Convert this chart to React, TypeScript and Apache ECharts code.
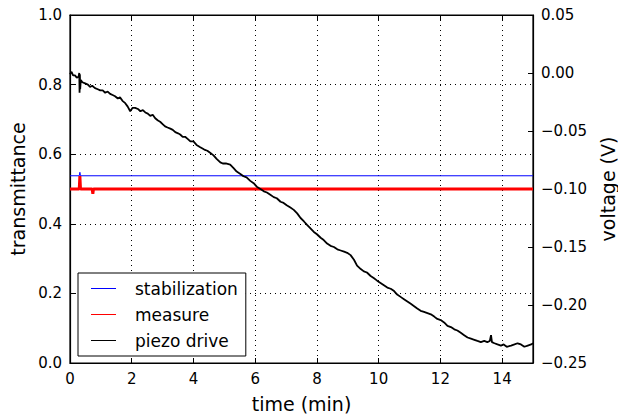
import React, { useEffect, useRef } from "react";
import * as echarts from "echarts";

// time (min) for x axis
const xTicks = [0, 2, 4, 6, 8, 10, 12, 14];

// stabilization (transmittance)
const stabTime = [0, 0.3, 0.32, 0.34, 15];
const stabValues = [0.538, 0.538, 0.548, 0.538, 0.538];

// measure (transmittance)
const measTime = [0, 0.3, 0.32, 0.34, 0.72, 0.74, 0.76, 15];
const measValues = [0.5, 0.5, 0.537, 0.5, 0.5, 0.486, 0.5, 0.5];

// piezo drive (voltage, V)
const piezoTime = [
  0.0, 0.05, 0.1, 0.16, 0.22, 0.28, 0.3, 0.31, 0.32, 0.33, 0.35, 0.4, 0.49, 0.58, 0.65, 0.72, 0.81, 0.9, 0.98,
  1.06, 1.14, 1.22, 1.3, 1.38, 1.46, 1.55, 1.62, 1.7, 1.79, 1.87, 1.95, 2.03, 2.11, 2.2, 2.28, 2.36, 2.44, 2.52,
  2.6, 2.68, 2.76, 2.85, 2.92, 3.0, 3.08, 3.16, 3.25, 3.33, 3.41, 3.5, 3.57, 3.65, 3.73, 3.82, 3.9, 4.0, 4.1,
  4.22, 4.35, 4.45, 4.55, 4.65, 4.75, 4.87, 4.95, 5.05, 5.19, 5.3, 5.4, 5.52, 5.62, 5.72, 5.84, 5.95, 6.05,
  6.17, 6.28, 6.38, 6.49, 6.6, 6.7, 6.82, 6.92, 7.02, 7.14, 7.25, 7.36, 7.47, 7.58, 7.68, 7.79, 7.9, 8.0, 8.12,
  8.22, 8.33, 8.44, 8.55, 8.66, 8.77, 8.88, 8.98, 9.09, 9.2, 9.3, 9.42, 9.52, 9.62, 9.74, 9.85, 9.95, 10.06,
  10.17, 10.28, 10.39, 10.5, 10.6, 10.71, 10.82, 10.93, 11.04, 11.15, 11.25, 11.36, 11.47, 11.58, 11.69, 11.8,
  11.9, 12.01, 12.12, 12.23, 12.34, 12.45, 12.55, 12.66, 12.77, 12.88, 12.99, 13.1, 13.2, 13.31, 13.42, 13.52,
  13.6, 13.64, 13.67, 13.75, 13.85, 13.96, 14.05, 14.15, 14.29, 14.4, 14.5, 14.61, 14.72, 14.83, 14.94, 15.0,
];
const piezoValues = [
  -0.001, 0.001, -0.002, -0.002, -0.004, -0.003, 0.0, -0.017, -0.001, -0.014, -0.006, -0.008, -0.009, -0.01,
  -0.012, -0.011, -0.013, -0.014, -0.015, -0.015, -0.017, -0.016, -0.018, -0.019, -0.02, -0.022, -0.021,
  -0.024, -0.026, -0.029, -0.033, -0.03, -0.03, -0.031, -0.033, -0.032, -0.034, -0.035, -0.037, -0.036,
  -0.039, -0.041, -0.042, -0.044, -0.046, -0.047, -0.048, -0.049, -0.051, -0.052, -0.053, -0.055, -0.055,
  -0.057, -0.059, -0.059, -0.062, -0.064, -0.066, -0.067, -0.069, -0.071, -0.074, -0.077, -0.078, -0.078,
  -0.079, -0.082, -0.085, -0.087, -0.089, -0.09, -0.093, -0.095, -0.098, -0.1, -0.102, -0.103, -0.105,
  -0.107, -0.108, -0.111, -0.112, -0.114, -0.116, -0.118, -0.121, -0.125, -0.128, -0.131, -0.134, -0.137,
  -0.139, -0.142, -0.144, -0.147, -0.149, -0.15, -0.152, -0.153, -0.154, -0.155, -0.157, -0.161, -0.166,
  -0.169, -0.171, -0.172, -0.175, -0.177, -0.179, -0.181, -0.183, -0.185, -0.186, -0.188, -0.191, -0.193,
  -0.195, -0.197, -0.199, -0.201, -0.203, -0.205, -0.206, -0.207, -0.208, -0.21, -0.212, -0.213, -0.215,
  -0.218, -0.219, -0.221, -0.222, -0.224, -0.226, -0.228, -0.229, -0.23, -0.231, -0.232, -0.231, -0.232,
  -0.231, -0.226, -0.232, -0.233, -0.234, -0.235, -0.234, -0.236, -0.235, -0.234, -0.233, -0.234, -0.236,
  -0.235, -0.234, -0.233,
];

const FONT = "DejaVu Sans";

function zip(a: number[], b: number[]) {
  return a.map((t, i) => [t, b[i]]);
}

export default function App() {
  const ref = useRef<HTMLDivElement>(null);
  useEffect(() => {
    document.body.style.margin = "0";
    const chart = echarts.init(ref.current!, null, { renderer: "svg" });
    const tickStyle = { show: true, inside: true, length: 5, lineStyle: { color: "#000", width: 1 } };
    const axisLine = { show: true, onZero: false, lineStyle: { color: "#000", width: 1.2 } };
    chart.setOption({
      animation: false,
      backgroundColor: "#fff",
      grid: {
        left: 70,
        right: 85,
        top: 15,
        bottom: 54,
        outerBoundsMode: "none",
        containLabel: false,
        show: true,
        borderColor: "#000",
        borderWidth: 1.2,
        backgroundColor: "transparent",
      },
      legend: {
        orient: "vertical",
        left: 78,
        top: 273,
        padding: [7, 8, 7, 13],
        itemGap: 9,
        itemWidth: 25,
        itemHeight: 1,
        backgroundColor: "#fff",
        borderColor: "#000",
        borderWidth: 1,
        borderRadius: 0,
        textStyle: { fontFamily: FONT, fontSize: 17, color: "#000", padding: [0, 0, 0, 14] },
        data: [
          { name: "stabilization", icon: "rect", itemStyle: { color: "#0000ff" } },
          { name: "measure", icon: "rect", itemStyle: { color: "#ff0000" } },
          { name: "piezo drive", icon: "rect", itemStyle: { color: "#000" } },
        ],
        selectedMode: false,
      },
      xAxis: [
        {
          type: "value",
          min: 0,
          max: 15,
          interval: 2,
          name: "time (min)",
          nameLocation: "middle",
          nameGap: 31,
          nameTextStyle: { fontFamily: FONT, fontSize: 19, color: "#000" },
          axisLine,
          axisTick: tickStyle,
          axisLabel: { fontFamily: FONT, fontSize: 15, color: "#000", margin: 8, showMaxLabel: false },
          splitLine: { show: true, lineStyle: { color: "#000", width: 1, type: [1, 4] } },
        },
        {
          type: "value",
          position: "top",
          min: 0,
          max: 15,
          interval: 2,
          axisLine,
          axisTick: tickStyle,
          axisLabel: { show: false },
          splitLine: { show: false },
        },
      ],
      yAxis: [
        {
          type: "value",
          min: 0,
          max: 1,
          interval: 0.2,
          name: "transmittance",
          nameLocation: "middle",
          nameRotate: 90,
          nameGap: 42,
          nameTextStyle: { fontFamily: FONT, fontSize: 19, color: "#000" },
          axisLine,
          axisTick: tickStyle,
          axisLabel: { fontFamily: FONT, fontSize: 15, color: "#000", margin: 8, formatter: (v: number) => v.toFixed(1) },
          splitLine: { show: true, lineStyle: { color: "#000", width: 1, type: [1, 4] } },
        },
        {
          type: "value",
          position: "right",
          min: -0.25,
          max: 0.05,
          interval: 0.05,
          name: "voltage (V)",
          nameLocation: "middle",
          nameRotate: 90,
          nameGap: 65,
          nameTextStyle: { fontFamily: FONT, fontSize: 19, color: "#000" },
          axisLine,
          axisTick: tickStyle,
          axisLabel: {
            fontFamily: FONT,
            fontSize: 15,
            color: "#000",
            margin: 8,
            formatter: (v: number) => {
              const r = Math.round(v * 100) / 100;
              return (r < 0 ? "\u2212" : "") + Math.abs(r).toFixed(2);
            },
          },
          splitLine: { show: false },
        },
      ],
      series: [
        {
          name: "stabilization",
          type: "line",
          yAxisIndex: 0,
          data: zip(stabTime, stabValues),
          showSymbol: false,
          symbol: "none",
          lineStyle: { color: "#0000ff", width: 1 },
          itemStyle: { color: "#0000ff" },
        },
        {
          name: "measure",
          type: "line",
          yAxisIndex: 0,
          data: zip(measTime, measValues),
          showSymbol: false,
          symbol: "none",
          lineStyle: { color: "#ff0000", width: 3 },
          itemStyle: { color: "#ff0000" },
        },
        {
          name: "piezo drive",
          type: "line",
          yAxisIndex: 1,
          data: zip(piezoTime, piezoValues),
          showSymbol: false,
          symbol: "none",
          lineStyle: { color: "#000", width: 1.8 },
          itemStyle: { color: "#000" },
        },
      ],
    });
    return () => chart.dispose();
  }, []);
  return <div ref={ref} style={{ width: 618, height: 417, position: "absolute", left: 0, top: 0 }} />;
}
